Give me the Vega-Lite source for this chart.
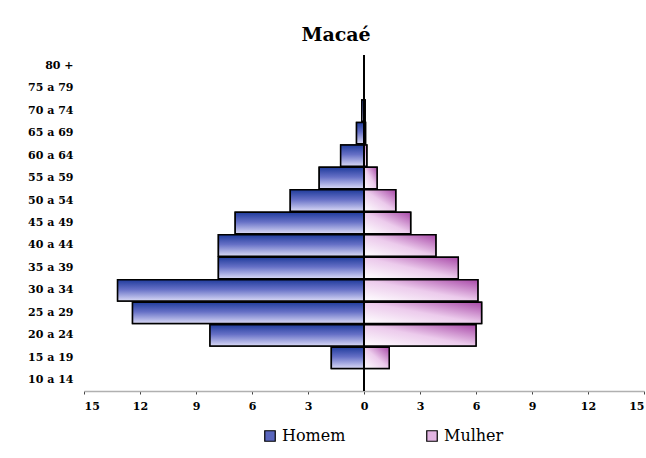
{
  "$schema": "https://vega.github.io/schema/vega-lite/v6.json",
  "width": 560,
  "height": 336,
  "autosize": {"type": "none"},
  "padding": {"left": 84, "top": 55, "right": 2, "bottom": 67},
  "background": "white",
  "title": {
    "text": "Macaé",
    "font": "DejaVu Serif",
    "fontSize": 19,
    "fontWeight": "bold",
    "color": "black",
    "anchor": "middle",
    "frame": "bounds",
    "offset": 9
  },
  "data": {
    "values": [
      {"idade": "80 +", "sexo": "Homem", "valor": 0},
      {"idade": "75 a 79", "sexo": "Homem", "valor": 0},
      {"idade": "70 a 74", "sexo": "Homem", "valor": -0.12},
      {"idade": "65 a 69", "sexo": "Homem", "valor": -0.4},
      {"idade": "60 a 64", "sexo": "Homem", "valor": -1.25},
      {"idade": "55 a 59", "sexo": "Homem", "valor": -2.4},
      {"idade": "50 a 54", "sexo": "Homem", "valor": -3.95},
      {"idade": "45 a 49", "sexo": "Homem", "valor": -6.9},
      {"idade": "40 a 44", "sexo": "Homem", "valor": -7.8},
      {"idade": "35 a 39", "sexo": "Homem", "valor": -7.8},
      {"idade": "30 a 34", "sexo": "Homem", "valor": -13.2},
      {"idade": "25 a 29", "sexo": "Homem", "valor": -12.4},
      {"idade": "20 a 24", "sexo": "Homem", "valor": -8.25},
      {"idade": "15 a 19", "sexo": "Homem", "valor": -1.75},
      {"idade": "10 a 14", "sexo": "Homem", "valor": 0},
      {"idade": "80 +", "sexo": "Mulher", "valor": 0},
      {"idade": "75 a 79", "sexo": "Mulher", "valor": 0},
      {"idade": "70 a 74", "sexo": "Mulher", "valor": 0.06},
      {"idade": "65 a 69", "sexo": "Mulher", "valor": 0.08},
      {"idade": "60 a 64", "sexo": "Mulher", "valor": 0.15},
      {"idade": "55 a 59", "sexo": "Mulher", "valor": 0.7},
      {"idade": "50 a 54", "sexo": "Mulher", "valor": 1.7},
      {"idade": "45 a 49", "sexo": "Mulher", "valor": 2.5},
      {"idade": "40 a 44", "sexo": "Mulher", "valor": 3.85},
      {"idade": "35 a 39", "sexo": "Mulher", "valor": 5.05},
      {"idade": "30 a 34", "sexo": "Mulher", "valor": 6.1},
      {"idade": "25 a 29", "sexo": "Mulher", "valor": 6.3},
      {"idade": "20 a 24", "sexo": "Mulher", "valor": 6.0},
      {"idade": "15 a 19", "sexo": "Mulher", "valor": 1.35},
      {"idade": "10 a 14", "sexo": "Mulher", "valor": 0}
    ]
  },
  "encoding": {
    "y": {
      "field": "idade",
      "type": "nominal",
      "sort": ["80 +", "75 a 79", "70 a 74", "65 a 69", "60 a 64", "55 a 59", "50 a 54", "45 a 49", "40 a 44", "35 a 39", "30 a 34", "25 a 29", "20 a 24", "15 a 19", "10 a 14"],
      "scale": {"paddingInner": 0.05, "paddingOuter": 0},
      "axis": {
        "title": null,
        "domain": false,
        "ticks": false,
        "labelFont": "DejaVu Serif",
        "labelFontWeight": "bold",
        "labelFontSize": 11,
        "labelColor": "black",
        "labelPadding": 11
      }
    },
    "x": {
      "field": "valor",
      "type": "quantitative",
      "scale": {"domain": [-15, 15], "nice": false},
      "axis": {
        "title": null,
        "values": [-15, -12, -9, -6, -3, 0, 3, 6, 9, 12, 15],
        "labelExpr": "abs(datum.value)",
        "grid": false,
        "domainColor": "#b0b0b0",
        "domainWidth": 1.5,
        "tickColor": "#444444",
        "tickSize": 3,
        "labelFont": "DejaVu Serif",
        "labelFontWeight": "bold",
        "labelFontSize": 11,
        "labelColor": "black",
        "labelPadding": 6
      }
    }
  },
  "layer": [
    {
      "mark": {"type": "bar", "stroke": "black", "strokeWidth": 1.5},
      "encoding": {
        "color": {
          "field": "sexo",
          "type": "nominal",
          "scale": {"domain": ["Homem", "Mulher"], "range": ["#5a66bd", "#e2b4e2"]},
          "legend": {
            "title": null,
            "orient": "none",
            "direction": "horizontal",
            "legendX": 178,
            "legendY": 373,
            "symbolType": "square",
            "symbolSize": 110,
            "symbolStrokeColor": "black",
            "symbolStrokeWidth": 1.2,
            "labelFont": "DejaVu Serif",
            "labelFontSize": 16,
            "labelColor": "black",
            "labelOffset": 4,
            "columnPadding": 78
          }
        }
      }
    },
    {
      "transform": [{"filter": {"field": "sexo", "equal": "Homem"}}],
      "mark": {
        "type": "bar",
        "stroke": "black",
        "strokeWidth": 1.5,
        "fill": {"gradient": "linear", "x1": 0, "y1": 0, "x2": 0, "y2": 1, "stops": [{"offset": 0, "color": "#203c9c"}, {"offset": 0.45, "color": "#6670c6"}, {"offset": 1, "color": "#dadaf6"}]}
      }
    },
    {
      "transform": [{"filter": {"field": "sexo", "equal": "Mulher"}}],
      "mark": {
        "type": "bar",
        "stroke": "black",
        "strokeWidth": 1.5,
        "fill": {"gradient": "linear", "x1": 0, "y1": 1, "x2": 1, "y2": 0, "stops": [{"offset": 0, "color": "#ffffff"}, {"offset": 0.5, "color": "#eccbec"}, {"offset": 1, "color": "#a848a8"}]}
      }
    },
    {
      "mark": {"type": "rule", "color": "black", "strokeWidth": 1.5},
      "encoding": {"x": {"datum": 0}, "y": null}
    }
  ],
  "config": {
    "view": {"stroke": null}
  }
}
